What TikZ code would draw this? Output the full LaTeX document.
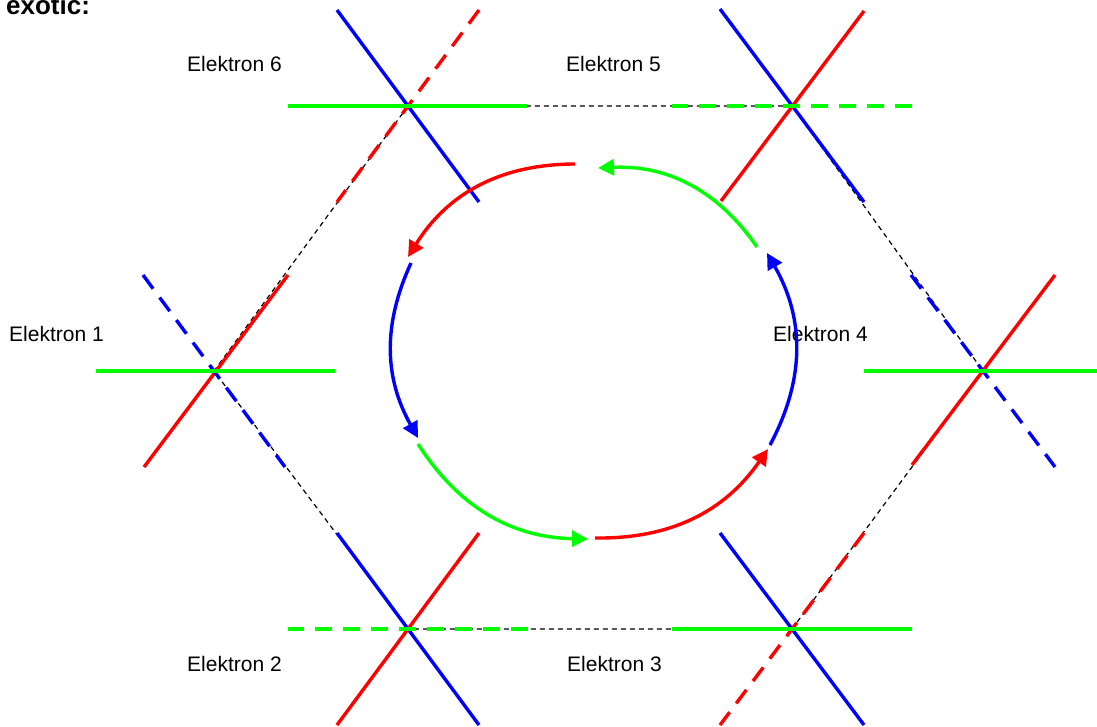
\documentclass[tikz,border=0pt]{standalone}
\usepackage{fontspec}
\setmainfont{Liberation Sans}
\usetikzlibrary{arrows.meta}
\definecolor{pgreen}{RGB}{0,255,0}
\definecolor{pred}{RGB}{255,0,0}
\definecolor{pblue}{RGB}{0,0,255}
\begin{document}
\begin{tikzpicture}[x=1pt,y=-1pt,
  ln/.style={line width=3.4pt},
  dsh/.style={line width=3.4pt,dash pattern=on 17pt off 11pt},
  hexedge/.style={black,line width=1.2pt,dash pattern=on 5pt off 4pt},
  circarrow/.style={line width=3.4pt,-{Triangle[length=16pt,width=16pt]}},
  lbl/.style={font=\fontsize{21}{25}\selectfont,anchor=base west,inner sep=0pt}
]
\useasboundingbox (0,0) rectangle (1097,726);
\coordinate (v6) at (408,106);
\coordinate (v5) at (792,106);
\coordinate (v1) at (214,371);
\coordinate (v4) at (983,371);
\coordinate (v2) at (408,629);
\coordinate (v3) at (792,629);

% hexagon edges
\draw[hexedge] (v6) -- (v1) -- (v2) -- (v3) -- (v4) -- (v5) -- cycle;

% vertex 6
\draw[ln,pblue] (v6) ++(-71,-96) -- ++(142,192);
\draw[dsh,pred] (v6) ++(71,-96) -- ++(-142,192);
\draw[ln,pgreen] (v6) ++(-120,0) -- ++(239,0);
% vertex 5
\draw[ln,pblue] (v5) ++(-72,-97) -- ++(144,193);
\draw[ln,pred] (v5) ++(72,-95) -- ++(-143,190);
\draw[dsh,pgreen] (v5) ++(120,0) -- ++(-240,0);
% vertex 1
\draw[ln,pred] (v1) ++(74,-96) -- ++(-144,192);
\draw[dsh,pblue] (v1) ++(-71,-96) -- ++(142,192);
\draw[ln,pgreen] (v1) ++(-118,0) -- ++(239,0);
% vertex 4
\draw[ln,pred] (v4) ++(72,-96) -- ++(-143,190);
\draw[dsh,pblue] (v4) ++(-72,-96) -- ++(144,192);
\draw[ln,pgreen] (v4) ++(-119,0) -- ++(240,0);
% vertex 2
\draw[ln,pblue] (v2) ++(-71,-96) -- ++(142,192);
\draw[ln,pred] (v2) ++(71,-96) -- ++(-142,192);
\draw[dsh,pgreen] (v2) ++(120,0) -- ++(-240,0);
% vertex 3
\draw[ln,pblue] (v3) ++(-72,-96) -- ++(144,192);
\draw[dsh,pred] (v3) ++(72,-96) -- ++(-144,192);
\draw[ln,pgreen] (v3) ++(-120,0) -- ++(240,0);

% texts
\node[font=\bfseries\fontsize{26}{30}\selectfont,anchor=base west,inner sep=0pt] (title) at (6,14) {exotic:};
\node[lbl] (e6) at (187,71) {Elektron 6};
\node[lbl] (e5) at (566,71) {Elektron 5};
\node[lbl] (e1) at (9,341) {Elektron 1};
\node[lbl] (e4) at (773,341) {Elektron 4};
\node[lbl] (e2) at (187,671) {Elektron 2};
\node[lbl] (e3) at (567,671) {Elektron 3};

% circular arrows
\coordinate (a1s) at (575,164); \coordinate (a1e) at (408,257);
\coordinate (a2s) at (411,263); \coordinate (a2e) at (418,438);
\coordinate (a3s) at (418,444); \coordinate (a3e) at (588,539);
\coordinate (a4s) at (595,538); \coordinate (a4e) at (768,449);
\coordinate (a5s) at (770,445); \coordinate (a5e) at (767,253);
\coordinate (a6s) at (757,247); \coordinate (a6e) at (598,168);
\draw[circarrow,pred] (a1s) to[bend right=29] (a1e);
\draw[circarrow,pblue] (a2s) to[bend right=27] (a2e);
\draw[circarrow,pgreen] (a3s) to[bend right=28] (a3e);
\draw[circarrow,pred] (a4s) to[bend right=28] (a4e);
\draw[circarrow,pblue] (a5s) to[bend right=29] (a5e);
\draw[circarrow,pgreen] (a6s) to[bend right=29] (a6e);
\end{tikzpicture}
\end{document}
